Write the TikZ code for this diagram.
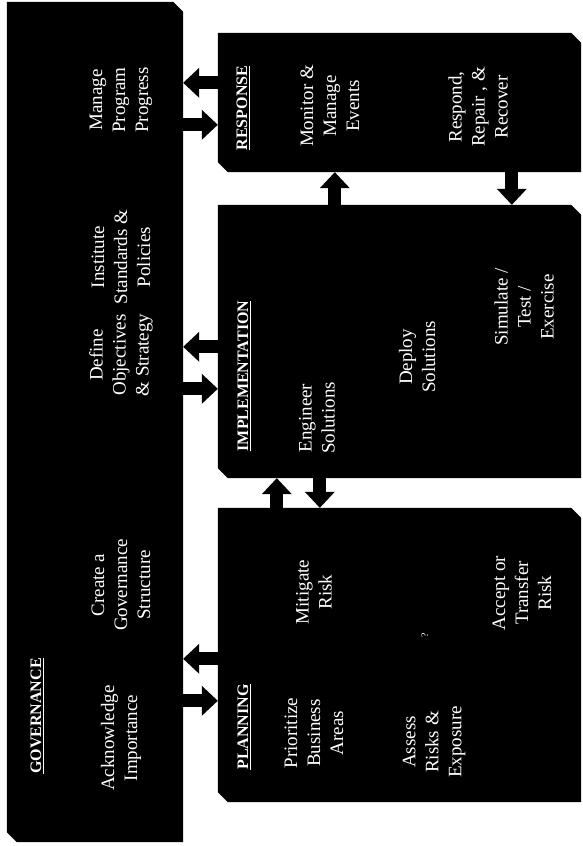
\documentclass[tikz,border=0pt]{standalone}
\usepackage{fontspec}
\setmainfont{Liberation Serif}
\usetikzlibrary{arrows.meta,positioning,calc}

\begin{document}
\begin{tikzpicture}[
  x=1pt,y=-1pt,
  panel/.style={rectangle,inner sep=0pt},
  item/.style={text=white,rotate=90,align=center,inner sep=0pt,
    font=\fontsize{19}{23}\selectfont},
  head/.style={item,font=\fontsize{16}{19}\selectfont\bfseries},
  flow/.style={line width=13pt,-{Triangle[length=16pt,width=30pt,line width=0pt]}}
]
\useasboundingbox (0,0) rectangle (582,846);
% the four blocks
\node[panel,minimum width=176pt,minimum height=840pt] (gov) at (95,422) {};
\node[panel,minimum width=363pt,minimum height=139pt] (resp) at (399.5,102.5) {};
\node[panel,minimum width=363pt,minimum height=273pt] (impl) at (399.5,341.5) {};
\node[panel,minimum width=363pt,minimum height=294pt] (plan) at (399.5,655) {};
\foreach \b in {gov,resp,impl,plan}
  \fill (\b.north west) -- ([xshift=-10pt]\b.north east) -- ([yshift=-10pt]\b.north east)
    -- (\b.south east) -- ([xshift=10pt]\b.south west) -- ([yshift=10pt]\b.south west) -- cycle;

% governance
\node[head] (govh) at (37,716) {\underline{GOVERNANCE}};
\node[item] (ack) at (121,738) {Acknowledge\\Importance};
\node[item] (create) at (121,585) {Create a\\Governance\\Structure};
\node[item] (define) at (121,355) {Define\\Objectives\\\& Strategy};
\node[item] (inst) at (121,257) {Institute\\Standards \&\\Policies};
\node[item] (manage) at (121,100) {Manage\\Program\\Progress};

% response
\node[head] (resph) at (243,108) {\underline{RESPONSE}};
\node[item] (monitor) at (330,106) {Monitor \&\\Manage\\Events};
\node[item] (respond) at (478,107) {Respond,\\Repair , \&\\Recover};

% implementation
\node[head] (implh) at (244,376) {\underline{IMPLEMENTATION}};
\node[item] (eng) at (317,418) {Engineer\\Solutions};
\node[item] (deploy) at (417,357) {Deploy\\Solutions};
\node[item] (sim) at (524,307) {Simulate /\\Test /\\Exercise};

% planning
\node[head] (planh) at (244,727) {\underline{PLANNING}};
\node[item] (prio) at (314,733) {Prioritize\\Business\\Areas};
\node[item] (mit) at (314,592) {Mitigate\\Risk};
\node[item,font=\fontsize{10}{12}\selectfont] (qm) at (425,635) {?};
\node[item] (assess) at (434,742) {Assess\\Risks \&\\Exposure};
\node[item] (accept) at (522,593) {Accept or\\Transfer\\Risk};

% block arrows
\coordinate (ra) at ($(resp.north west)+(0,50)$);
\coordinate (rb) at ($(resp.north west)+(0,92)$);
\coordinate (ia) at ($(impl.north west)+(0,142)$);
\coordinate (ib) at ($(impl.north west)+(0,184)$);
\coordinate (pa) at ($(plan.north west)+(0,151)$);
\coordinate (pb) at ($(plan.north west)+(0,193)$);
\draw[flow] (ra) -- (ra -| gov.east);
\draw[flow] (rb -| gov.east) -- (rb);
\draw[flow] (ia) -- (ia -| gov.east);
\draw[flow] (ib -| gov.east) -- (ib);
\draw[flow] (pa) -- (pa -| gov.east);
\draw[flow] (pb -| gov.east) -- (pb);

\coordinate (up1) at ($(resp.south west)+(117,0)$);
\coordinate (dn1) at ($(resp.south west)+(294,0)$);
\coordinate (up2) at ($(impl.south west)+(59,0)$);
\coordinate (dn2) at ($(impl.south west)+(102,0)$);
\draw[flow] (up1 |- impl.north) -- (up1);
\draw[flow] (dn1) -- (dn1 |- impl.north);
\draw[flow] (up2 |- plan.north) -- (up2);
\draw[flow] (dn2) -- (dn2 |- plan.north);
\end{tikzpicture}
\end{document}
